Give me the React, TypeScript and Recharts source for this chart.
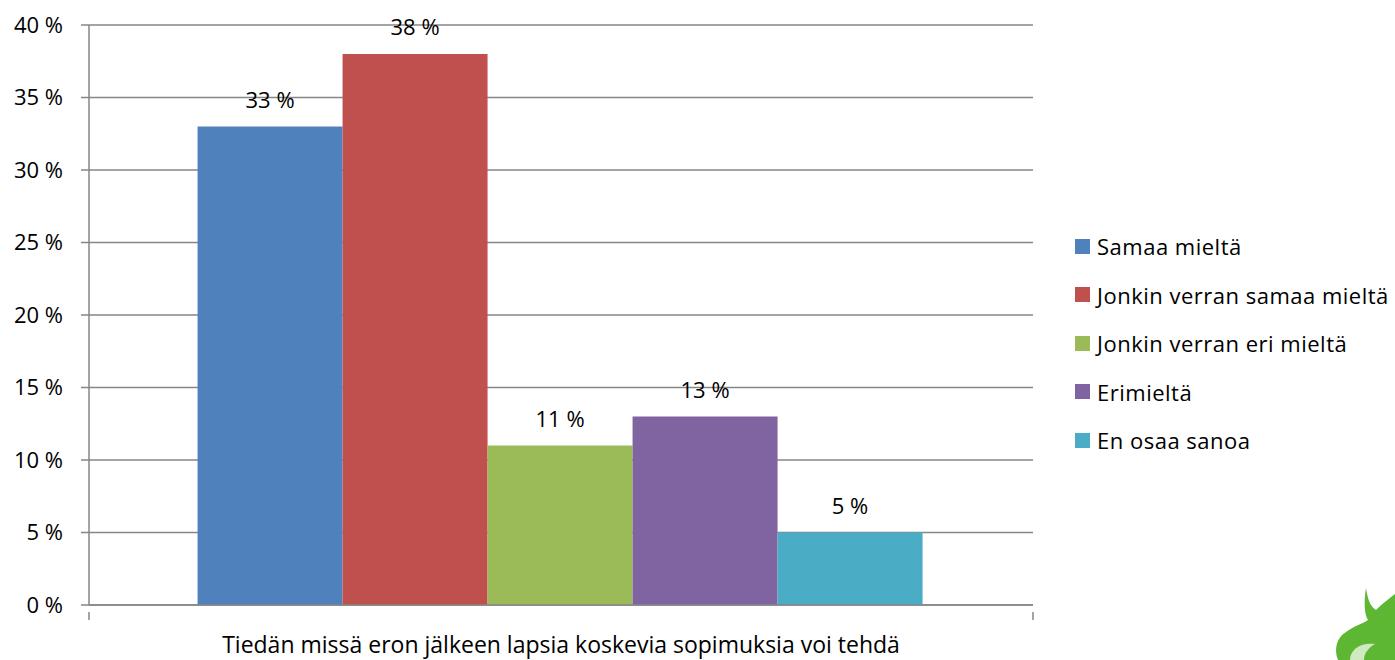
import React from 'react'
import { BarChart, Bar, XAxis, YAxis, CartesianGrid, LabelList } from 'recharts'

const category = 'Tiedän missä eron jälkeen lapsia koskevia sopimuksia voi tehdä'
const seriesNames = [
  'Samaa mieltä',
  'Jonkin verran samaa mieltä',
  'Jonkin verran eri mieltä',
  'Erimieltä',
  'En osaa sanoa',
]
const seriesValues = [33, 38, 11, 13, 5]
const seriesColors = ['#4F81BD', '#C0504D', '#9BBB59', '#8064A2', '#4BACC6']
const yTicks = [0, 5, 10, 15, 20, 25, 30, 35, 40]

const keys = seriesNames.map((_, i) => `s${i}`)
const row: Record<string, string | number> = { name: category }
keys.forEach((k, i) => { row[k] = seriesValues[i] })
const data = [row]

const FONT = '"Open Sans", Lato, sans-serif'
const FS = 22
const AXIS = '#868686'

const W = 1395
const H = 660
const M = { top: 25, right: 362, bottom: 0, left: 0 }
const Y_W = 89

function XTick(props: any) {
  const { x, y, payload } = props
  const half = (W - M.right - Y_W) / 2
  return (
    <g>
      <line x1={x - half} y1={y - 1} x2={x - half} y2={y + 7} stroke={AXIS} strokeWidth={1.5} />
      <line x1={x + half} y1={y - 1} x2={x + half} y2={y + 7} stroke={AXIS} strokeWidth={1.5} />
      <text x={x} y={y + 40} textAnchor="middle" fontSize={23} fill="#000" fontFamily={FONT}>
        {payload.value}
      </text>
    </g>
  )
}

function Legend() {
  return (
    <div style={{ position: 'absolute', left: 1075, top: 222, fontFamily: FONT, fontSize: FS }}>
      {seriesNames.map((n, i) => (
        <div key={n} style={{ display: 'flex', alignItems: 'center', height: 48.5 }}>
          <span style={{ width: 15, height: 15, background: seriesColors[i], marginRight: 7, display: 'inline-block', flex: 'none' }} />
          <span style={{ color: '#000', whiteSpace: 'nowrap', lineHeight: '24px', letterSpacing: 0.5 }}>{n}</span>
        </div>
      ))}
    </div>
  )
}

export default function App() {
  return (
    <div style={{ position: 'absolute', left: 0, top: 0, width: W, height: H, background: '#fff', overflow: 'hidden' }}>
      <BarChart width={W} height={H} data={data} margin={M} barGap={0} barCategoryGap="11.5%">
        <CartesianGrid vertical={false} stroke={AXIS} strokeWidth={1.5} />
        <XAxis
          dataKey="name"
          height={55}
          axisLine={{ stroke: AXIS, strokeWidth: 1.5 }}
          tickLine={false}
          tick={<XTick />}
          interval={0}
        />
        <YAxis
          width={Y_W}
          domain={[0, 40]}
          ticks={yTicks}
          tickFormatter={(v) => `${v} %`}
          axisLine={{ stroke: AXIS, strokeWidth: 1.5 }}
          tickLine={{ stroke: AXIS, strokeWidth: 1.5 }}
          tickSize={8}
          tickMargin={18}
          tick={{ fontSize: FS, fill: '#000', fontFamily: FONT }}
        />
        {keys.map((k, i) => (
          <Bar key={k} dataKey={k} name={seriesNames[i]} fill={seriesColors[i]} isAnimationActive={false}>
            <LabelList
              dataKey={k}
              position="top"
              offset={19}
              formatter={(v: any) => `${v} %`}
              style={{ fontSize: FS, fill: '#000', fontFamily: FONT }}
            />
          </Bar>
        ))}
      </BarChart>
      <Legend />
      <svg style={{ position: 'absolute', left: 1320, top: 580 }} width={75} height={80}>
        <path
          d="M46 8 C48 20 50 26 56 30 C62 24 70 18 75 14 L75 80 L18 80 C14 70 16 58 26 52 C34 46 42 44 48 40 C44 34 44 20 46 8 Z"
          fill="#5DB732"
        />
        <path d="M30 80 C30 70 40 62 55 64 C48 68 44 74 44 80 Z" fill="#fff" opacity={0.7} />
      </svg>
    </div>
  )
}
